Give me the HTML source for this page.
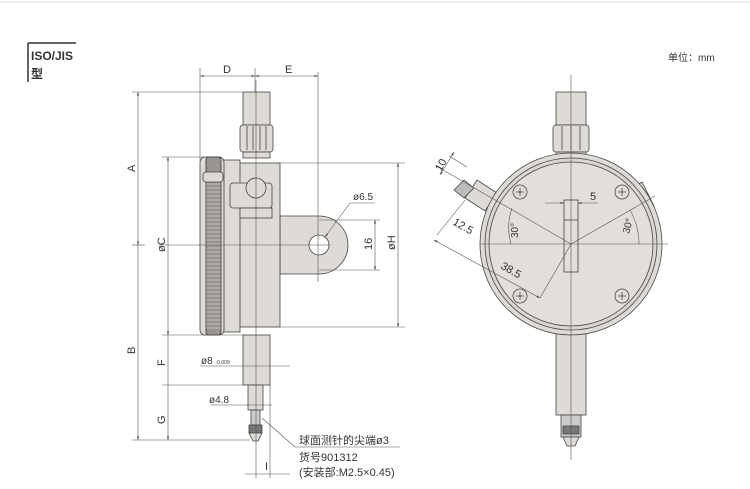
<!DOCTYPE html>
<html><head><meta charset="utf-8"><style>
body{margin:0;background:#fff}
svg{display:block}
text{font-family:"Liberation Sans","Noto Sans CJK SC",sans-serif;fill:#333}
</style></head><body>
<svg width="750" height="489" viewBox="0 0 750 489" xmlns="http://www.w3.org/2000/svg">
<defs><marker id="a" viewBox="0 0 10 10" refX="10" refY="5" markerWidth="6" markerHeight="6" orient="auto-start-reverse"><path d="M0 2L10 5L0 8z" fill="#444"/></marker></defs>
<line x1="0" y1="2" x2="750" y2="2" stroke="#ddd"/>
<line x1="28" y1="43" x2="28" y2="82" stroke="#333" stroke-width="1.5"/>
<line x1="28" y1="43" x2="76" y2="43" stroke="#333" stroke-width="1.5"/>
<text x="31" y="60" font-size="12" font-weight="bold">ISO/JIS</text>
<text x="31" y="78" font-size="12" font-weight="bold">型</text>
<text x="668" y="61" font-size="10">单位：mm</text>

<g stroke="#444" stroke-width="0.8" fill="#dedad5">
<rect x="243" y="92" width="27" height="33"/>
<rect x="240" y="125" width="33" height="27" rx="3"/>
<line x1="247" y1="126" x2="247" y2="150"/><line x1="253" y1="126" x2="253" y2="150"/><line x1="260" y1="126" x2="260" y2="150"/><line x1="266" y1="126" x2="266" y2="150"/>
<rect x="243" y="152" width="27" height="6"/>
<path d="M280 216 L319 216 A29 29 0 0 1 319 274 L280 274 Z"/>
<rect x="237" y="163" width="43" height="164"/>
<rect x="220" y="160" width="20" height="172"/>
<rect x="200" y="157" width="24" height="178" rx="5"/>
<rect x="206" y="157" width="15" height="178" rx="3" fill="#9a9590" stroke="#333"/>
<g stroke="#e8e4df" stroke-width="0.6">
<path d="M206 180H221M206 184H221M206 188H221M206 192H221M206 196H221M206 200H221M206 204H221M206 208H221M206 212H221M206 216H221M206 220H221M206 224H221M206 228H221M206 232H221M206 236H221M206 240H221M206 244H221M206 248H221M206 252H221M206 256H221M206 260H221M206 264H221M206 268H221M206 272H221M206 276H221M206 280H221M206 284H221M206 288H221M206 292H221M206 296H221M206 300H221M206 304H221M206 308H221M206 312H221M206 316H221M206 320H221M206 324H221M206 328H221"/>
</g>
<rect x="203" y="172" width="20" height="10" rx="3"/>
<rect x="230" y="183" width="42" height="25" rx="3"/>
<circle cx="256" cy="188" r="10"/>
<rect x="240" y="208" width="32" height="10"/>
<circle cx="319" cy="245" r="10" fill="#fff"/>
<rect x="243" y="335" width="27" height="50"/>
<rect x="248" y="385" width="15" height="25"/>
<rect x="251" y="410" width="9" height="15" fill="#ccc"/>
<rect x="249" y="425" width="13" height="8" fill="#777"/>
<path d="M249 433 L262 433 L258 441 L253 441 Z"/>

<rect x="556" y="92" width="30" height="33"/>
<rect x="553" y="125" width="36" height="27" rx="3"/>
<line x1="562" y1="126" x2="562" y2="150"/><line x1="571" y1="126" x2="571" y2="150"/><line x1="580" y1="126" x2="580" y2="150"/>
<rect x="556" y="152" width="30" height="8"/>
<rect x="556" y="325" width="30" height="90"/>
<rect x="561" y="415" width="20" height="22" fill="#ccc"/>
<rect x="563" y="426" width="16" height="8" fill="#777"/>
<path d="M563 437 L579 437 L575 446 L567 446 Z"/>
<path d="M465 198 l12 -18 l20 13 l-12 18 z"/>
<path d="M454 190 l10 -10 l10 8 l-10 10 z" fill="#bbb"/>
<path d="M632 188 l10 -6 l12 24 l-10 6 z"/>
<circle cx="571" cy="244" r="91"/>
<circle cx="571" cy="244" r="86" fill="#d9d5d0"/>
<circle cx="571" cy="244" r="82" fill="#e2ded9"/>
<g fill="#e2ded9"><circle cx="520" cy="192" r="7"/><circle cx="622" cy="192" r="7"/><circle cx="520" cy="296" r="7"/><circle cx="622" cy="296" r="7"/></g>
<path d="M516 192h8M520 188v8M618 192h8M622 188v8M516 296h8M520 292v8M618 296h8M622 292v8"/>
<rect x="564" y="200" width="14" height="72" fill="#e2ded9"/>
<line x1="564" y1="220" x2="578" y2="220"/>
</g>

<g stroke="#555" stroke-width="0.6" fill="none">
<line x1="256" y1="80" x2="256" y2="478"/>
<line x1="318" y1="72" x2="318" y2="282"/>
<line x1="200" y1="68" x2="200" y2="160"/>
<line x1="255" y1="68" x2="255" y2="92"/>
<line x1="160" y1="245" x2="330" y2="245"/>
<line x1="200" y1="76" x2="255" y2="76" marker-start="url(#a)" marker-end="url(#a)"/>
<line x1="255" y1="76" x2="318" y2="76" marker-start="url(#a)" marker-end="url(#a)"/>
<line x1="132" y1="92" x2="243" y2="92"/>
<line x1="138" y1="92" x2="138" y2="245" marker-start="url(#a)" marker-end="url(#a)"/>
<line x1="138" y1="245" x2="138" y2="440" marker-end="url(#a)"/>
<line x1="132" y1="440" x2="250" y2="440"/>
<line x1="132" y1="245" x2="145" y2="245"/>
<line x1="162" y1="157" x2="210" y2="157"/>
<line x1="162" y1="335" x2="243" y2="335"/>
<line x1="168" y1="157" x2="168" y2="335" marker-start="url(#a)" marker-end="url(#a)"/>
<line x1="168" y1="335" x2="168" y2="440" marker-end="url(#a)"/>
<line x1="162" y1="385" x2="248" y2="385"/>
<line x1="280" y1="163" x2="405" y2="163"/>
<line x1="280" y1="327" x2="405" y2="327"/>
<line x1="398" y1="163" x2="398" y2="327" marker-start="url(#a)" marker-end="url(#a)"/>
<line x1="319" y1="220" x2="380" y2="220"/>
<line x1="319" y1="270" x2="380" y2="270"/>
<line x1="375" y1="220" x2="375" y2="270" marker-start="url(#a)" marker-end="url(#a)"/>
<line x1="350" y1="203" x2="325" y2="237" marker-end="url(#a)"/><line x1="350" y1="203" x2="375" y2="203"/>
<line x1="200" y1="366" x2="290" y2="366"/>
<line x1="210" y1="405" x2="272" y2="405"/>
<line x1="270" y1="385" x2="270" y2="478"/>
<line x1="245" y1="474" x2="290" y2="474"/>
<line x1="262" y1="418" x2="295" y2="447"/><line x1="295" y1="447" x2="400" y2="447"/>
<line x1="571" y1="75" x2="571" y2="460"/>
<line x1="480" y1="244" x2="668" y2="244"/>
<line x1="571" y1="244" x2="490" y2="197"/>
<line x1="571" y1="244" x2="655" y2="196"/>
<line x1="571" y1="244" x2="540" y2="298"/>
<line x1="490" y1="197" x2="436" y2="166"/>
<line x1="467" y1="167" x2="449" y2="156"/>
<line x1="440" y1="175" x2="454" y2="152" marker-start="url(#a)" marker-end="url(#a)"/>
<line x1="465" y1="200" x2="437" y2="235"/>
<line x1="434" y1="240" x2="540" y2="298" marker-start="url(#a)" marker-end="url(#a)"/>
<line x1="545" y1="203" x2="564" y2="203" marker-end="url(#a)"/>
<line x1="598" y1="203" x2="578" y2="203" marker-end="url(#a)"/>
<path d="M512 208 A60 60 0 0 0 511 244"/>
<path d="M630 210 A68 68 0 0 1 639 244"/>
</g>

<g font-size="11" fill="#333">
<text x="223" y="73">D</text><text x="285" y="73">E</text>
<text x="353" y="200" font-size="10">ø6.5</text>
<text transform="translate(372,250) rotate(-90)">16</text>
<text transform="translate(395,250) rotate(-90)">øH</text>
<text transform="translate(165,252) rotate(-90)">øC</text>
<text transform="translate(135,172) rotate(-90)">A</text>
<text transform="translate(135,354) rotate(-90)">B</text>
<text transform="translate(165,366) rotate(-90)">F</text>
<text transform="translate(165,424) rotate(-90)">G</text>
<text x="201" y="364" font-size="10">ø8 <tspan font-size="5">-0.009</tspan></text>
<text x="209" y="403" font-size="10">ø4.8</text>
<text x="265" y="470">I</text>
<text x="299" y="444">球面测针的尖端ø3</text>
<text x="299" y="461">货号901312</text>
<text x="299" y="476">(安装部:M2.5×0.45)</text>
<text x="590" y="200">5</text>
<text transform="translate(441,172) rotate(-60)">10</text>
<text transform="translate(452,224) rotate(30)">12.5</text>
<text transform="translate(500,268) rotate(30)">38.5</text>
<text transform="translate(518,238) rotate(-90)" font-size="10">30°</text>
<text transform="translate(629,234) rotate(-75)" font-size="10">30°</text>
</g>
</svg>
</body></html>
